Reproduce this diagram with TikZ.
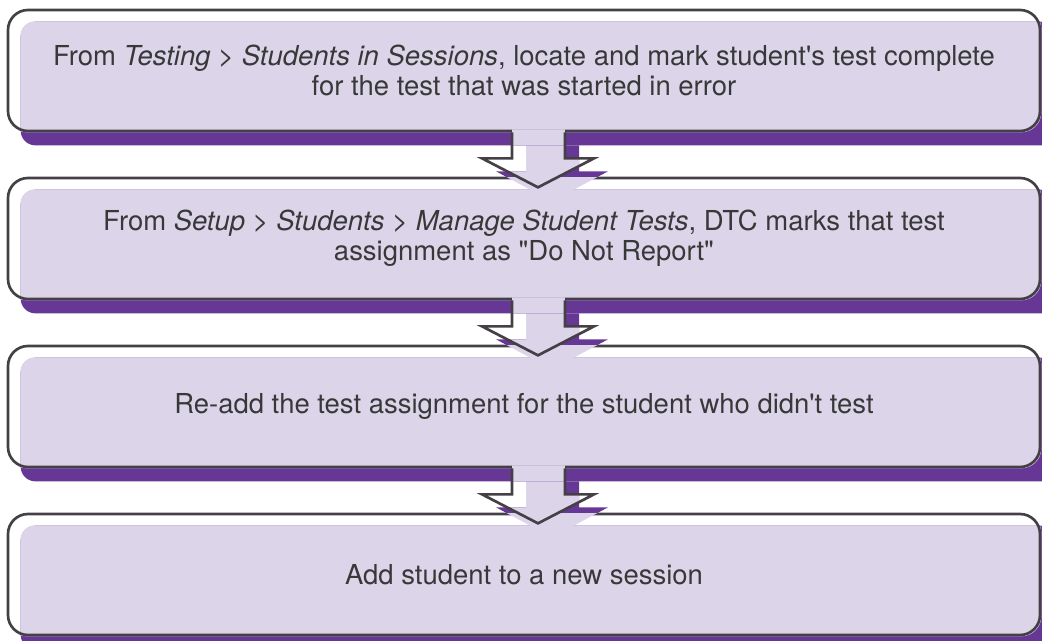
\documentclass[tikz,border=0pt]{standalone}
\usepackage{fontspec}
\setmainfont{TeX Gyre Heros}[Ligatures=TeXOff]
\usetikzlibrary{backgrounds}

\definecolor{boxfill}{HTML}{DCD5EA}
\definecolor{boxshade}{HTML}{663795}
\definecolor{boxline}{HTML}{444046}
\definecolor{boxtext}{HTML}{383838}

\begin{document}
\begin{tikzpicture}[x=0.75pt,y=-0.75pt,
  stepbox/.style={draw=boxline, line width=2pt, rounded corners=15pt, minimum width=774pt, minimum height=90.75pt, inner sep=0pt, align=center, text=boxtext, font=\fontsize{20.6}{22.8}\selectfont},
  arrowline/.style={draw=boxline, line width=2pt, line join=miter}]
\useasboundingbox (0,0) rectangle (1042,640);

\node[stepbox] (box1) at (524,70.5) {From \textit{Testing > Students in Sessions}, locate and mark student's test complete\\for the test that was started in error};
\node[stepbox] (box2) at (524,238.5) {From \textit{Setup > Students > Manage Student Tests}, DTC marks that test\\assignment as "Do Not Report"};
\node[stepbox] (box3) at (524,406.5) {Re-add the test assignment for the student who didn't test};
\node[stepbox] (box4) at (524,574.5) {Add student to a new session};

% shadow and fill behind every box
\begin{scope}[on background layer]
\foreach \b in {box1,box2,box3,box4} {
  \fill[boxshade, rounded corners=11pt] ([shift={(14,13)}]\b.south west) rectangle ([shift={(14,13)}]\b.north east);
  \begin{scope}
    \clip[rounded corners=15pt] (\b.south west) rectangle (\b.north east);
    \fill[boxfill, rounded corners=10pt] ([shift={(14,13)}]\b.south west) rectangle ([shift={(14,13)}]\b.north east);
  \end{scope}
}
\end{scope}

% block arrows from box to box
\foreach \a/\b in {box1/box2,box2/box3,box3/box4} {
  \begin{scope}[shift={(\a.south)}]
    \begin{scope}
      \clip (-60,-5) rectangle (110,46);
      \fill[boxshade] (2,13) -- (2,39) -- (-28,39) -- (28,69) -- (84,39) -- (55,39) -- (55,13) -- cycle;
    \end{scope}
    \begin{scope}
      \clip (-12,-3) -- (-12,26) -- (-42,26) -- (14,56) -- (70,26) -- (41,26) -- (41,-3) -- cycle;
      \fill[boxfill] (2,13) -- (2,39) -- (-28,39) -- (28,69) -- (84,39) -- (55,39) -- (55,13) -- cycle;
      \fill[boxfill] (-12,-3) rectangle (41,13);
    \end{scope}
    \begin{scope}
      \clip (-60,45.5) rectangle (110,75);
      \fill[boxfill] (2,13) -- (2,39) -- (-28,39) -- (28,69) -- (84,39) -- (55,39) -- (55,13) -- cycle;
    \end{scope}
    \draw[arrowline] (-12,0) -- (-12,26) -- (-42,26) -- (14,55) -- (70,26) -- (41,26) -- (41,0);
  \end{scope}
}
\end{tikzpicture}
\end{document}
